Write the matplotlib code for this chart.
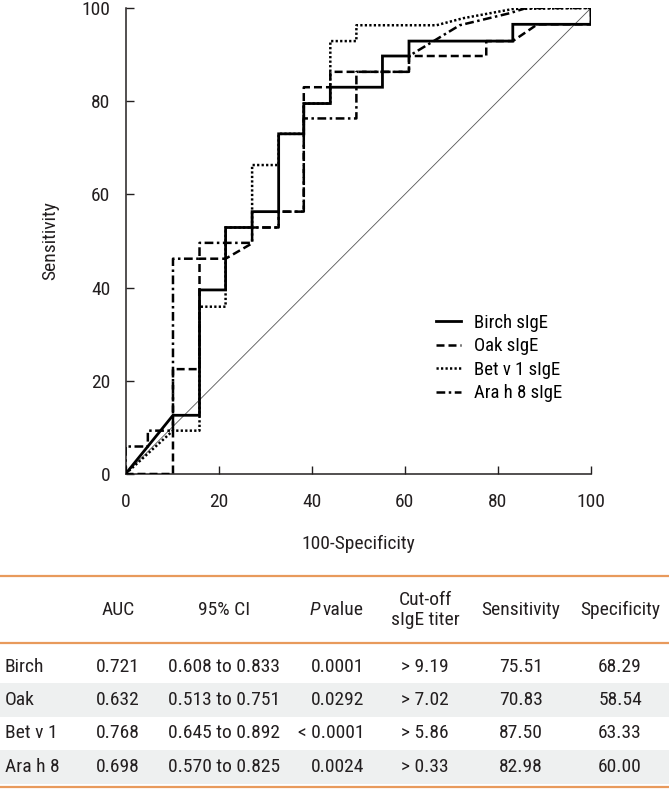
import matplotlib
matplotlib.use("Agg")
import matplotlib.pyplot as plt
from matplotlib import font_manager

# --------- font: narrow sans if we have one ---------
FONT, STRETCH, FS = "Roboto", "normal", 12.5
for f in font_manager.fontManager.ttflist:
    if f.name in ("Liberation Sans Narrow", "Roboto Condensed", "Arial Narrow"):
        FONT, STRETCH, FS = f.name, "normal", 14
        break
else:
    for f in font_manager.fontManager.ttflist:
        if f.name in ("DejaVu Sans", "Noto Sans", "Open Sans") and f.stretch in ("condensed", 500 - 125, 75) \
                and f.style == "normal":
            FONT, STRETCH, FS = f.name, "condensed", 13
            break
plt.rcParams["font.family"] = [FONT, "DejaVu Sans"]
plt.rcParams["font.stretch"] = STRETCH

# --------- ROC curves (x = 100-specificity, y = sensitivity) ---------
birch_x = [0, 10.2, 15.9, 15.9, 21.5, 21.5, 27.2, 27.2, 32.9, 32.9, 38.3, 38.3,
           44.0, 44.0, 55.2, 55.2, 60.9, 60.9, 83.2, 83.2, 100, 100]
birch_y = [0, 12.6, 12.6, 39.5, 39.5, 52.9, 52.9, 56.3, 56.3, 73.0, 73.0, 79.5,
           79.5, 83.0, 83.0, 89.7, 89.7, 92.9, 92.9, 96.5, 96.5, 100]

oak_x = [0, 10.2, 10.2, 15.9, 15.9, 21.5, 27.2, 27.2, 32.9, 32.9, 38.3, 38.3,
         44.0, 44.0, 60.9, 60.9, 77.5, 77.5, 83.2, 88.5, 100, 100]
oak_y = [0, 0, 22.5, 22.5, 46.2, 46.2, 49.5, 52.9, 52.9, 56.3, 56.3, 83.0,
         83.0, 86.3, 86.3, 89.7, 89.7, 92.9, 92.9, 96.5, 96.5, 100]

betv1_x = [0, 10.2, 15.9, 15.9, 21.5, 21.5, 27.2, 27.2, 32.9, 32.9, 38.3, 38.3,
           44.0, 44.0, 49.6, 49.6, 66.8, 72.5, 83.3, 100]
betv1_y = [0, 9.3, 9.3, 35.9, 35.9, 52.9, 52.9, 66.3, 66.3, 73.0, 73.0, 79.5,
           79.5, 92.9, 92.9, 96.3, 96.3, 97.8, 99.8, 100]

arah8_x = [0, 0, 4.8, 4.8, 10.2, 10.2, 15.9, 15.9, 27.2, 27.2, 32.9, 32.9,
           38.3, 38.3, 49.6, 49.6, 60.9, 60.9, 71.8, 82.6, 86.1, 100]
arah8_y = [0, 5.9, 5.9, 9.3, 9.3, 46.2, 46.2, 49.6, 49.6, 52.9, 52.9, 56.3,
           56.3, 76.3, 76.3, 86.3, 86.3, 89.7, 96.3, 98.9, 100, 100]

legend_labels = ["Birch sIgE", "Oak sIgE", "Bet v 1 sIgE", "Ara h 8 sIgE"]
ticks = [0, 20, 40, 60, 80, 100]

# --------- table ---------
col_headers = ["AUC", "95% CI", "value", "Cut-off\nsIgE titer", "Sensitivity", "Specificity"]
row_names = ["Birch", "Oak", "Bet v 1", "Ara h 8"]
auc = ["0.721", "0.632", "0.768", "0.698"]
ci95 = ["0.608 to 0.833", "0.513 to 0.751", "0.645 to 0.892", "0.570 to 0.825"]
pvals = ["0.0001", "0.0292", "< 0.0001", "0.0024"]
cutoff = ["> 9.19", "> 7.02", "> 5.86", "> 0.33"]
sens = ["75.51", "70.83", "87.50", "82.98"]
spec = ["68.29", "58.54", "63.33", "60.00"]

TXT = "#231f20"
ORANGE = "#e89a5c"
GRAY_ROW = "#eef0f0"

fig = plt.figure(figsize=(6.69, 7.89), dpi=100)

# table drawn in pixel coords of the whole figure
tax = fig.add_axes([0, 0, 1, 1], zorder=0)
tax.set_xlim(0, 669)
tax.set_ylim(789, 0)
tax.axis("off")

ax = fig.add_axes([125.5 / 669, 315 / 789, 465.5 / 669, 466 / 789], zorder=1)
ax.patch.set_alpha(0)

ax.plot([0, 100], [0, 100], color="#555555", lw=0.6, zorder=1)
ax.plot(birch_x, birch_y, color="black", lw=2.0, ls="-", label=legend_labels[0],
        solid_joinstyle="miter", zorder=3)
ax.plot(oak_x, oak_y, color="black", lw=1.8, ls=(0, (3.2, 1.6)), label=legend_labels[1], zorder=3)
ax.plot(betv1_x, betv1_y, color="black", lw=1.8, ls=(0, (0.9, 0.9)), label=legend_labels[2], zorder=3)
ax.plot(arah8_x, arah8_y, color="black", lw=1.8, ls=(0, (3.5, 1.4, 1.0, 1.4)),
        label=legend_labels[3], zorder=3)

ax.set_xlim(0, 100)
ax.set_ylim(0, 100)
ax.set_xticks(ticks)
ax.set_yticks(ticks)
ax.spines["top"].set_visible(False)
ax.spines["right"].set_visible(False)
for s in ("left", "bottom"):
    ax.spines[s].set_linewidth(1.1)
    ax.spines[s].set_color(TXT)
ax.tick_params(axis="both", direction="in", length=6, width=1.0, colors=TXT,
               labelsize=FS, labelcolor=TXT)
ax.tick_params(axis="x", pad=14)
ax.tick_params(axis="y", pad=11)
ax.set_xlabel("100-Specificity", fontsize=FS, color=TXT, labelpad=17)
ax.set_ylabel("Sensitivity", fontsize=FS, color=TXT, labelpad=16)

ax.legend(loc="center left", bbox_to_anchor=(0.667, 0.249), frameon=False,
          fontsize=FS - 0.5, handlelength=1.35, handletextpad=0.7,
          labelspacing=0.3, borderpad=0, borderaxespad=0)

# --- table layout (pixels) ---
row_y = [667, 700, 733.5, 767]
row_h = 33.5
for i, yy in enumerate(row_y):
    if i % 2 == 1:
        tax.axhspan(yy - row_h / 2, min(yy + row_h / 2, 787), color=GRAY_ROW, lw=0)
for yy in (576, 643, 787):
    tax.axhline(yy, color=ORANGE, lw=1.6)

head_y = 610
tax.text(118, head_y, col_headers[0], ha="center", va="center", fontsize=FS, color=TXT)
tax.text(224, head_y, col_headers[1], ha="center", va="center", fontsize=FS, color=TXT)
tax.text(364, head_y, col_headers[2], ha="right", va="center", fontsize=FS, color=TXT)
tax.text(320, head_y, "P", ha="right", va="center", fontsize=FS, color=TXT, style="italic")
tax.text(425, head_y, col_headers[3], ha="center", va="center", fontsize=FS, color=TXT,
         linespacing=1.2)
tax.text(521, head_y, col_headers[4], ha="center", va="center", fontsize=FS, color=TXT)
tax.text(620, head_y, col_headers[5], ha="center", va="center", fontsize=FS, color=TXT)

for i, yy in enumerate(row_y):
    tax.text(5, yy, row_names[i], ha="left", va="center", fontsize=FS, color=TXT)
    tax.text(118, yy, auc[i], ha="center", va="center", fontsize=FS, color=TXT)
    tax.text(224, yy, ci95[i], ha="center", va="center", fontsize=FS, color=TXT)
    tax.text(364, yy, pvals[i], ha="right", va="center", fontsize=FS, color=TXT)
    tax.text(425, yy, cutoff[i], ha="center", va="center", fontsize=FS, color=TXT)
    tax.text(521, yy, sens[i], ha="center", va="center", fontsize=FS, color=TXT)
    tax.text(620, yy, spec[i], ha="center", va="center", fontsize=FS, color=TXT)

fig.savefig("out.png", dpi=100)
